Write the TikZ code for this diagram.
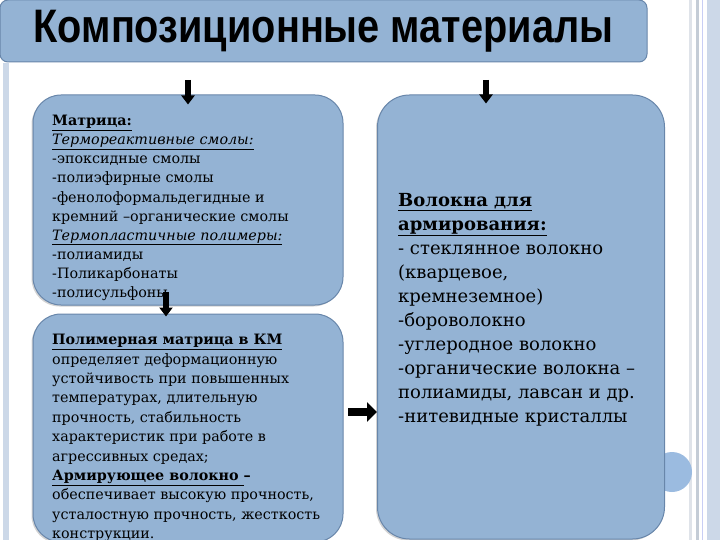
\documentclass[tikz,border=0pt]{standalone}
\usepackage{fontspec}
\setmainfont{DejaVu Serif}
\newfontfamily\titlefont[FakeStretch=0.845]{Liberation Sans}
\usetikzlibrary{arrows.meta,shadows}
\definecolor{panelblue}{RGB}{148,179,212}
\definecolor{paneledge}{RGB}{104,134,170}
\definecolor{stripeblue}{RGB}{204,216,232}
\definecolor{stripegray}{RGB}{196,204,214}
\definecolor{dotblue}{RGB}{155,187,224}

\begin{document}
\begin{tikzpicture}[x=1pt, y=-1pt,
  % ── node styles ──────────────────────────────────────────────────────────
  panel/.style={
    draw=paneledge, line width=1pt,
    rectangle, fill=panelblue, rounded corners=28pt,
    drop shadow={shadow xshift=-1.5pt, shadow yshift=-1.5pt, opacity=0.35}
  },
  titlebar/.style={
    draw=paneledge, line width=1pt,
    rectangle, fill=panelblue, rounded corners=8pt,
    minimum width=647pt, minimum height=62pt,
    font=\titlefont\bfseries\fontsize{47}{47}\selectfont
  },
  % text blocks inside the panels
  smalltxt/.style={
    anchor=north west, inner sep=0pt, align=left,
    font=\fontsize{14.3}{19.1}\selectfont
  },
  bigtxt/.style={
    anchor=north west, inner sep=0pt, align=left,
    font=\fontsize{18}{24}\selectfont
  },
  % thick black block arrows
  downarr/.style={
    draw=black, line width=6pt,
    -{Triangle[width=13pt,length=9pt]}
  },
  rightarr/.style={
    draw=black, line width=8pt,
    -{Triangle[width=19pt,length=10pt]}
  },
]
\useasboundingbox (0,0) rectangle (720,540);

% ── Slide frame stripes ──────────────────────────────────────────────────────
\fill[stripeblue] (3,63) rectangle (9,540);
\fill[stripegray!55] (689,0) rectangle (692,540);
\fill[stripegray] (696,0) rectangle (699,540);
\fill[stripeblue!80!blue!60] (701.5,0) rectangle (702.5,540);
\fill[stripeblue] (707,0) rectangle (720,540);
\node[circle, fill=dotblue, minimum size=40pt, inner sep=0pt] (dot) at (672,472) {};

% ── Title bar ────────────────────────────────────────────────────────────────
\node[titlebar] (title) at (323.5,31) {Композиционные материалы};

% ── Panels ───────────────────────────────────────────────────────────────────
\node[panel, minimum width=310pt, minimum height=210pt] (matrbox) at (188,200) {};
\node[panel, minimum width=310pt, minimum height=228pt] (polybox) at (188,428) {};
\node[panel, minimum width=287pt, minimum height=444pt, rounded corners=32pt] (fibbox) at (521,317) {};

% ── Panel texts ──────────────────────────────────────────────────────────────
\node[smalltxt] (matrtxt) at (52,115) {%
  \textbf{\underline{Матрица:}}\\
  \textit{\underline{Термореактивные смолы:}}\\
  -эпоксидные смолы\\
  -полиэфирные смолы\\
  -фенолоформальдегидные и\\
  кремний –органические смолы\\
  \textit{\underline{Термопластичные полимеры:}}\\
  -полиамиды\\
  -Поликарбонаты\\
  -полисульфоны};

\node[smalltxt, font=\fontsize{14.3}{19.4}\selectfont] (polytxt) at (52,334) {%
  \textbf{\underline{Полимерная матрица в КМ}}\\
  определяет деформационную\\
  устойчивость при повышенных\\
  температурах, длительную\\
  прочность, стабильность\\
  характеристик при работе в\\
  агрессивных средах;\\
  \textbf{\underline{Армирующее волокно }–}\\
  обеспечивает высокую прочность,\\
  усталостную прочность, жесткость\\
  конструкции.};

\node[bigtxt] (fibtxt) at (398,193) {%
  \textbf{\underline{Волокна для}}\\
  \textbf{\underline{армирования:}}\\
  - стеклянное волокно\\
  (кварцевое,\\
  кремнеземное)\\
  -бороволокно\\
  -углеродное волокно\\
  -органические волокна –\\
  полиамиды, лавсан и др.\\
  -нитевидные кристаллы};

% ── Arrows ───────────────────────────────────────────────────────────────────
\coordinate (arrA) at (188,80);
\coordinate (arrB) at (166,292);
\coordinate (arrC) at (486,80);
\coordinate (arrD) at (348,412);
\draw[downarr] (arrA) -- ([yshift=-10pt]arrA |- matrbox.north);
\draw[downarr] (arrB) -- ([yshift=-3pt]arrB |- polybox.north);
\draw[downarr] (arrC) -- ([yshift=-9pt]arrC |- fibbox.north);
\draw[rightarr] (arrD) -- (fibbox.west |- arrD);

\end{tikzpicture}
\end{document}
